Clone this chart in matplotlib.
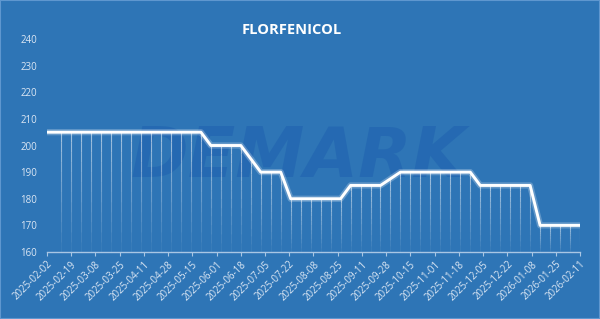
import matplotlib
matplotlib.use("Agg")
import matplotlib.pyplot as plt
import matplotlib.dates as mdates
import numpy as np
import pandas as pd
from matplotlib.collections import LineCollection

# weekly prices (Wednesdays), plus the start of the series
start_date = "2025-02-02"
start_price = 205
weekly_first = "2025-02-12"
weekly_prices = [
    205, 205, 205, 205, 205, 205, 205, 205, 205, 205, 205, 205, 205, 205, 205,  # to 2025-05-21
    200, 200, 200, 200, 195,                                                  # 05-28 .. 06-25
    190, 190, 190,                                                            # 07-02 .. 07-16
    180, 180, 180, 180, 180, 180,                                             # 07-23 .. 08-27
    185, 185, 185, 185, 187.5,                                                # 09-03 .. 10-01
    190, 190, 190, 190, 190, 190, 190, 190,                                   # 10-08 .. 11-26
    185, 185, 185, 185, 185, 185,                                             # 12-03 .. 01-07
    170, 170, 170, 170, 170,                                                  # 01-14 .. 02-11
]
tick_start = "2025-02-02"
tick_step_days = 17
tick_count = 23
y_ticks = [160, 170, 180, 190, 200, 210, 220, 230, 240]

bg = "#2e75b6"
txt = "#dce7f4"

weekly_dates = pd.date_range(weekly_first, periods=len(weekly_prices), freq="7D")
dates = [pd.Timestamp(start_date)] + list(weekly_dates)
prices = [start_price] + weekly_prices
xs = mdates.date2num(dates)

fig = plt.figure(figsize=(6.0, 3.19), dpi=100, facecolor=bg)
ax = fig.add_axes([47 / 600, 1 - 252 / 319, 533 / 600, 213 / 319])
ax.set_facecolor(bg)

# watermark, behind the data
ax.text(0.497, 0.505, "DEMARK", fontsize=50, fontweight="heavy", style="italic",
        color="#2367b1", alpha=0.8, ha="center", va="center", family="DejaVu Sans",
        transform=fig.transFigure, zorder=1)

# fading drop lines
n_seg = 12
for x, p in zip(xs[1:], weekly_prices):
    levels = np.linspace(p, 160, n_seg + 1)
    segs = [[(x, levels[i]), (x, levels[i + 1])] for i in range(n_seg)]
    alphas = np.linspace(0.55, 0.05, n_seg)
    cols = [(1, 1, 1, a) for a in alphas]
    ax.add_collection(LineCollection(segs, colors=cols, linewidths=0.8, zorder=2))

ax.plot(xs, prices, color="white", lw=4.5, alpha=0.25, zorder=3, solid_capstyle="butt")
ax.plot(xs, prices, color="white", lw=2.1, zorder=4, solid_capstyle="butt")

ticks = pd.date_range(tick_start, periods=tick_count, freq=f"{tick_step_days}D")
ax.set_xlim(mdates.date2num(ticks[0]), mdates.date2num(ticks[-1]))
ax.set_xticks(mdates.date2num(ticks))
ax.set_xticklabels([t.strftime("%Y-%m-%d") for t in ticks], rotation=45,
                   ha="right", rotation_mode="anchor", fontsize=7, color=txt,
                   family="Open Sans")
ax.set_ylim(160, 240)
ax.set_yticks(y_ticks)
ax.set_yticklabels([str(v) for v in y_ticks], fontsize=7, color=txt, family="Open Sans")

for s in ["top", "right", "left"]:
    ax.spines[s].set_visible(False)
ax.spines["bottom"].set_color("#a9c6e4")
ax.spines["bottom"].set_linewidth(1)
ax.tick_params(axis="x", length=3, color="#a9c6e4", pad=2)
ax.tick_params(axis="y", length=0, pad=7)

fig.text(292 / 600, 1 - 30 / 319, "FLORFENICOL",
         fontsize=10.5, fontweight="bold", color="white", ha="center", va="center",
         family="Open Sans")

# thin light frame around the picture
fig.patches.append(plt.Rectangle((0, 0), 1, 1, transform=fig.transFigure, fill=False,
                                 edgecolor="#5f97cf", lw=1.5))

fig.savefig("out.png", dpi=100, facecolor=bg)
